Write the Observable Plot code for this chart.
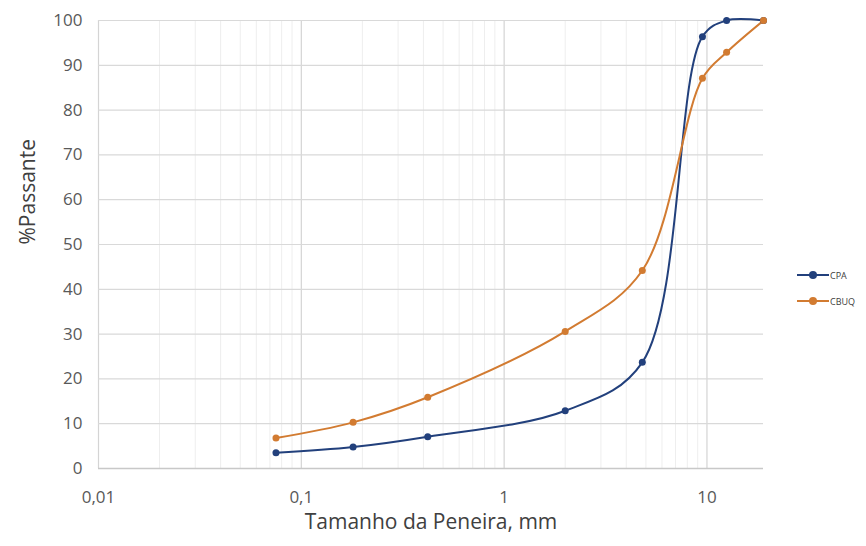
<!DOCTYPE html>
<html>
<head>
<meta charset="utf-8">
<script src="https://cdn.jsdelivr.net/npm/d3@7"></script>
<script src="https://cdn.jsdelivr.net/npm/@observablehq/plot@0.6"></script>
<style>
  body { margin: 0; background: #fff; font-family: "Open Sans", sans-serif; }
  #wrap { position: relative; width: 866px; height: 546px; }
  #legend { position: absolute; left: 797px; top: 262px; font-size: 9px; color: #404040; }
  .li { display: flex; align-items: center; height: 26px; }
  .sw { position: relative; width: 32px; height: 10px; margin-right: 1px; }
  .sw .ln { position: absolute; left: 0; right: 0; top: 4px; height: 2px; }
  .sw .dt { position: absolute; left: 12px; top: 1px; width: 8px; height: 8px; border-radius: 50%; }
</style>
</head>
<body>
<div id="wrap"></div>
<script>
const sizes = [0.075, 0.18, 0.42, 2.0, 4.8, 9.5, 12.5, 19];
const cpa   = [3.5, 4.8, 7.1, 12.9, 23.7, 96.4, 100, 100];
const cbuq  = [6.8, 10.3, 15.9, 30.6, 44.2, 87.1, 92.9, 100];
const seriesNames = ["CPA", "CBUQ"];
const seriesColors = ["#22407c", "#d27b31"];
const xTicks = [0.01, 0.1, 1, 10];
const xTickLabels = ["0,01", "0,1", "1", "10"];
const xMinor = [0.02,0.03,0.04,0.05,0.06,0.07,0.08,0.09,0.2,0.3,0.4,0.5,0.6,0.7,0.8,0.9,2,3,4,5,6,7,8,9];
const yTicks = [0, 10, 20, 30, 40, 50, 60, 70, 80, 90, 100];

const rows = [];
sizes.forEach((s, i) => {
  rows.push({series: "CPA", size: s, pass: cpa[i]});
  rows.push({series: "CBUQ", size: s, pass: cbuq[i]});
});

const chart = Plot.plot({
  width: 866,
  height: 546,
  marginLeft: 98,
  marginRight: 103,
  marginTop: 20,
  marginBottom: 78,
  style: {fontFamily: "Open Sans, sans-serif", background: "#fff"},
  x: {type: "log", domain: [0.01, 19], ticks: xTicks, tickFormat: (d, i) => xTickLabels[xTicks.indexOf(d)], tickSize: 0, tickPadding: 18, label: null},
  y: {domain: [0, 100], ticks: yTicks, tickSize: 0, tickPadding: 16, label: null},
  color: {domain: seriesNames, range: seriesColors},
  marks: [
    Plot.ruleX(xMinor, {stroke: "#eeeeee", strokeWidth: 1}),
    Plot.ruleX(xTicks, {stroke: "#d4d4d4", strokeWidth: 1.2}),
    Plot.ruleY(yTicks, {stroke: "#d9d9d9", strokeWidth: 1.2}),
    Plot.ruleY([0], {stroke: "#c8c8c8", strokeWidth: 1.5}),
    Plot.line(rows, {x: "size", y: "pass", stroke: "series", z: "series", curve: "catmull-rom", strokeWidth: 2}),
    Plot.dot(rows, {x: "size", y: "pass", fill: "series", r: 3.5}),
    Plot.axisX({ticks: xTicks, tickFormat: d => xTickLabels[xTicks.indexOf(d)], tickSize: 0, tickPadding: 22, fontSize: 17, fill: "#595959", label: null}),
    Plot.axisY({ticks: yTicks, tickSize: 0, tickPadding: 16, fontSize: 17, fill: "#595959", label: null}),
    Plot.text(["Tamanho da Peneira, mm"], {frameAnchor: "bottom", dy: 60, fontSize: 21, fill: "#404040"}),
    Plot.text(["%Passante"], {frameAnchor: "left", dx: -70, rotate: -90, fontSize: 21, fill: "#404040"})
  ]
});

const wrap = document.getElementById("wrap");
wrap.appendChild(chart);

const legend = document.createElement("div");
legend.id = "legend";
seriesNames.forEach((n, i) => {
  const li = document.createElement("div");
  li.className = "li";
  li.innerHTML = `<div class="sw"><div class="ln" style="background:${seriesColors[i]}"></div><div class="dt" style="background:${seriesColors[i]}"></div></div><span>${n}</span>`;
  legend.appendChild(li);
});
wrap.appendChild(legend);
</script>
</body>
</html>
